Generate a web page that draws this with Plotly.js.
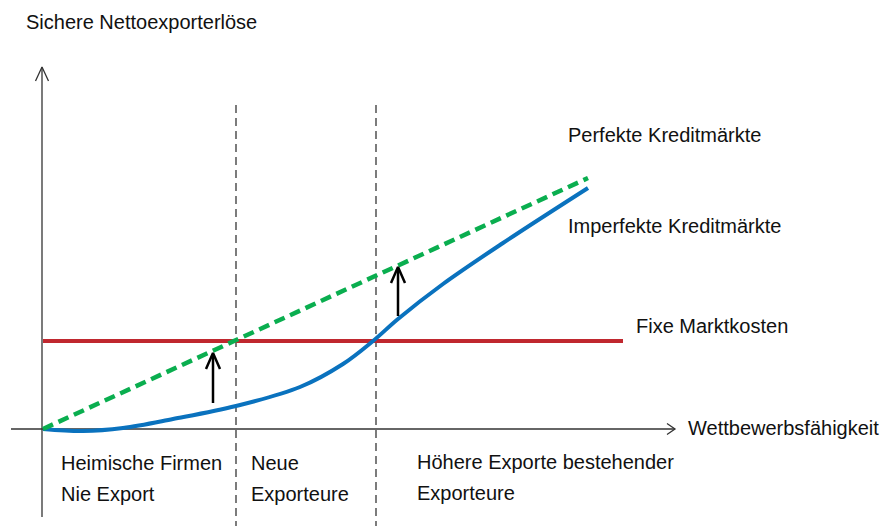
<!DOCTYPE html>
<html>
<head>
<meta charset="utf-8">
<script src="https://cdn.plot.ly/plotly-3.0.1.min.js"></script>
<style>html,body{margin:0;padding:0;background:#fff;}#chart{width:891px;height:526px;}</style>
</head>
<body>
<div id="chart"></div>
<script>
// Competitiveness (x) and safe net export revenue (y), conceptual units
const perfectX = [0, 545];
const perfectY = [0, 251];
const imperfectX = [0, 40, 80, 130, 193, 257, 300, 330, 355, 400, 460, 545];
const imperfectY = [0, -2, 1, 10, 23, 42, 65, 88, 110, 145, 186, 241];
const fixedCostX = [0, 580];
const fixedCostY = [88, 88];
const thresholds = [193, 333];           // entry cutoffs
const upliftX = [170, 355];              // arrows from imperfect to perfect
const upliftFrom = [26, 113];
const upliftTo = [76, 162];

const axisTitleY = 'Sichere Nettoexporterlöse';
const axisTitleX = 'Wettbewerbsfähigkeit';
const seriesLabels = ['Perfekte Kreditmärkte', 'Imperfekte Kreditmärkte', 'Fixe Marktkosten'];
const regionLabels = [
  ['Heimische Firmen', 'Nie Export'],
  ['Neue', 'Exporteure'],
  ['Höhere Exporte bestehender', 'Exporteure']
];

const axisColor = '#333';
const traces = [];

// axes with open arrow heads
traces.push({x: [-1, -1], y: [-88, 362], mode: 'lines', line: {color: axisColor, width: 1.3}, hoverinfo: 'skip'});
traces.push({x: [-7.5, -1, 5.5], y: [348, 362, 348], mode: 'lines', line: {color: axisColor, width: 1.3}, hoverinfo: 'skip'});
traces.push({x: [-32, 632], y: [0, 0], mode: 'lines', line: {color: axisColor, width: 1.3}, hoverinfo: 'skip'});
traces.push({x: [624, 632, 624], y: [5.5, 0, -5.5], mode: 'lines', line: {color: axisColor, width: 1.3}, hoverinfo: 'skip'});

// threshold dashed verticals
thresholds.forEach(t => traces.push({x: [t, t], y: [324, -97], mode: 'lines', line: {color: '#111', width: 1.1, dash: '8px,5px'}, hoverinfo: 'skip'}));

// fixed market costs
traces.push({x: fixedCostX, y: fixedCostY, mode: 'lines', line: {color: '#C0282F', width: 4}, hoverinfo: 'skip'});
// imperfect credit markets
traces.push({x: imperfectX, y: imperfectY, mode: 'lines', line: {color: '#0A72BE', width: 4, shape: 'spline', smoothing: 1}, hoverinfo: 'skip'});
// perfect credit markets
traces.push({x: perfectX, y: perfectY, mode: 'lines', line: {color: '#0AAE4F', width: 4.5, dash: '11px,6px'}, hoverinfo: 'skip'});

// uplift arrows
upliftX.forEach((ux, i) => {
  traces.push({x: [ux, ux], y: [upliftFrom[i], upliftTo[i] - 1], mode: 'lines', line: {color: '#000', width: 2.5}, hoverinfo: 'skip'});
  traces.push({x: [ux - 7, ux, ux + 7], y: [upliftTo[i] - 16, upliftTo[i], upliftTo[i] - 16], mode: 'lines', line: {color: '#000', width: 2.5}, hoverinfo: 'skip'});
});

const font = {family: 'Liberation Sans, Arial, sans-serif', size: 20, color: '#111'};
function txt(t, x, y) {
  return {text: t, x: x, y: y, xref: 'x', yref: 'y', showarrow: false, xanchor: 'left', yanchor: 'middle', font: font};
}
const annotations = [
  txt(axisTitleY, -19, 407),
  txt(seriesLabels[0], 523, 294),
  txt(seriesLabels[1], 523, 203),
  txt(seriesLabels[2], 591, 103),
  txt(axisTitleX, 643, 1),
  txt(regionLabels[0][0], 16, -34),
  txt(regionLabels[0][1], 16, -65),
  txt(regionLabels[1][0], 206, -34),
  txt(regionLabels[1][1], 206, -65),
  txt(regionLabels[2][0], 372, -33),
  txt(regionLabels[2][1], 372, -64)
];

const layout = {
  width: 891, height: 526,
  margin: {l: 0, r: 0, t: 0, b: 0},
  paper_bgcolor: '#fff', plot_bgcolor: '#fff',
  showlegend: false,
  xaxis: {range: [-43, 848], visible: false, fixedrange: true},
  yaxis: {range: [-97, 429], visible: false, fixedrange: true},
  annotations: annotations
};
Plotly.newPlot('chart', traces, layout, {displayModeBar: false, staticPlot: true});
</script>
</body>
</html>
